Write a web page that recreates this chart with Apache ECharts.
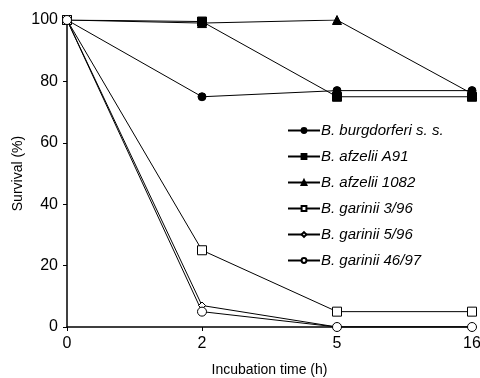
<!DOCTYPE html>
<html><head><meta charset="utf-8">
<script src="https://cdn.jsdelivr.net/npm/echarts@6/dist/echarts.min.js"></script>
<style>html,body{margin:0;padding:0;background:#fff}#c{width:480px;height:378px}</style>
</head><body><div id="c"></div>
<script>
var categories = ['0', '2', '5', '16'];
var burgdorferi = [100, 75, 77, 77];
var afzeliiA91 = [100, 99.5, 75, 75];
var afzelii1082 = [100, 99, 100, 76];
var garinii396 = [100, 25, 5, 5];
var garinii596 = [100, 7, 0, 0];
var garinii4697 = [100, 5, 0, 0];
var seriesNames = ['B. burgdorferi s. s.', 'B. afzelii A91', 'B. afzelii 1082', 'B. garinii 3/96', 'B. garinii 5/96', 'B. garinii 46/97'];
var yTicks = [0, 20, 40, 60, 80, 100];

var font = 'Liberation Sans, Arial, sans-serif';
function s(name, data, symbol, size, filled) {
  return {
    name: name, type: 'line', data: data, symbol: symbol, symbolSize: size,
    showAllSymbol: true,
    lineStyle: { color: '#000', width: 1 },
    itemStyle: { color: filled ? '#000' : '#fff', borderColor: '#000', borderWidth: 1 },
    emphasis: { disabled: true }, z: filled ? 3 : 4
  };
}
var chart = echarts.init(document.getElementById('c'));
chart.setOption({
  animation: false,
  backgroundColor: '#fff',
  grid: { left: 67, right: 8, top: 20, bottom: 51, containLabel: false, outerBoundsMode: 'none' },
  xAxis: {
    type: 'category', data: categories, boundaryGap: false,
    name: 'Incubation time (h)', nameLocation: 'middle', nameGap: 36, nameMoveOverlap: false,
    nameTextStyle: { fontFamily: font, fontSize: 14, color: '#000' },
    axisLine: { lineStyle: { color: '#000', width: 1.5 } },
    axisTick: { show: true, inside: false, length: 4, lineStyle: { color: '#000' } },
    axisLabel: { fontFamily: font, fontSize: 16, color: '#000', margin: 9 },
    splitLine: { show: false }
  },
  yAxis: {
    type: 'value', min: yTicks[0], max: yTicks[yTicks.length - 1], interval: 20,
    name: 'Survival (%)', nameLocation: 'middle', nameGap: 42, nameRotate: 90, nameMoveOverlap: false,
    nameTextStyle: { fontFamily: font, fontSize: 14, color: '#000' },
    axisLine: { show: true, lineStyle: { color: '#000', width: 1.5 } },
    axisTick: { show: true, inside: false, length: 4, lineStyle: { color: '#000' } },
    axisLabel: { fontFamily: font, fontSize: 16, color: '#000', margin: 9 },
    splitLine: { show: false }
  },
  legend: {
    orient: 'vertical', left: 282, top: 118, itemWidth: 32, itemHeight: 6, itemGap: 11,
    textStyle: { fontFamily: font, fontSize: 15, fontStyle: 'italic', color: '#000', padding: [0, 0, 0, -4] },
    data: seriesNames
  },
  series: [
    s(seriesNames[0], burgdorferi, 'circle', 8, true),
    s(seriesNames[1], afzeliiA91, 'rect', 9, true),
    s(seriesNames[2], afzelii1082, 'triangle', 9, true),
    s(seriesNames[3], garinii396, 'rect', 9, false),
    s(seriesNames[4], garinii596, 'diamond', 7, false),
    s(seriesNames[5], garinii4697, 'circle', 9, false)
  ]
});
</script></body></html>
